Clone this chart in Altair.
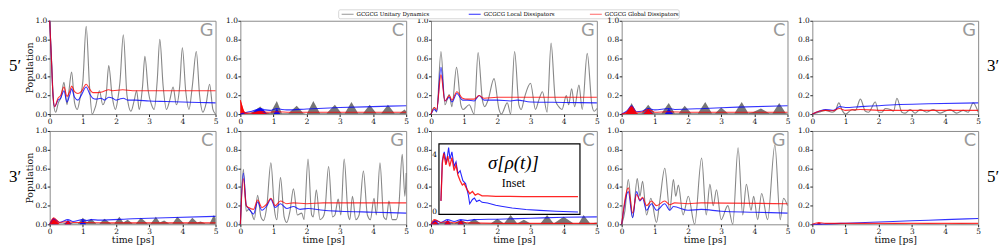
import altair as alt
import pandas as pd

W, H = 167, 94

# ---------------- data (time [ps], population) ----------------
# Row 1, col 1 (G)
P1_GRAY = [(0,1.0),(0.06,0.55),(0.12,0.1),(0.18,0.02),(0.26,0.12),(0.34,0.18),(0.43,0.34),(0.52,0.1),(0.58,0.25),(0.66,0.45),(0.75,0.12),(0.83,0.05),(0.92,0.18),(1.0,0.35),(1.1,0.94),(1.2,0.3),(1.28,0.0),(1.38,0.08),(1.5,0.25),(1.6,0.1),(1.7,0.2),(1.78,0.52),(1.88,0.2),(1.98,0.05),(2.05,0.15),(2.12,0.35),(2.22,0.85),(2.33,0.2),(2.45,0.03),(2.55,0.15),(2.62,0.25),(2.7,0.05),(2.8,0.3),(2.87,0.62),(2.97,0.25),(3.07,0.1),(3.15,0.05),(3.24,0.35),(3.32,0.8),(3.42,0.3),(3.52,0.05),(3.62,0.15),(3.72,0.29),(3.82,0.1),(3.92,0.3),(4.0,0.71),(4.1,0.25),(4.2,0.05),(4.3,0.3),(4.42,0.67),(4.52,0.2),(4.62,0.02),(4.72,0.12),(4.82,0.32),(4.92,0.05),(5.0,0.0)]
P1_BLUE = [(0,1.0),(0.05,0.6),(0.1,0.2),(0.15,0.08),(0.25,0.15),(0.33,0.17),(0.43,0.25),(0.52,0.13),(0.6,0.2),(0.66,0.27),(0.75,0.18),(0.85,0.15),(0.95,0.2),(1.1,0.29),(1.2,0.22),(1.3,0.17),(1.4,0.16),(1.55,0.17),(1.65,0.15),(1.78,0.18),(1.9,0.17),(2.0,0.15),(2.1,0.16),(2.22,0.17),(2.35,0.15),(2.6,0.15),(3.0,0.14),(3.5,0.135),(4.0,0.13),(4.5,0.125),(5.0,0.12)]
P1_RED = [(0,1.0),(0.05,0.6),(0.1,0.2),(0.15,0.08),(0.25,0.17),(0.33,0.2),(0.43,0.29),(0.52,0.19),(0.6,0.24),(0.66,0.3),(0.75,0.24),(0.85,0.22),(0.95,0.24),(1.1,0.32),(1.2,0.27),(1.3,0.23),(1.45,0.23),(1.6,0.24),(1.78,0.26),(1.9,0.25),(2.2,0.26),(2.5,0.25),(3.0,0.25),(4.0,0.25),(5.0,0.25)]

# Row 1, col 2 (C)
P2_GRAY = [(0,0.0),(0.3,0.01),(0.45,0.04),(0.6,0.08),(0.75,0.02),(0.9,0.01),(1.1,0.14),(1.25,0.01),(1.45,0.01),(1.7,0.09),(1.9,0.01),(2.0,0.0),(2.2,0.14),(2.4,0.01),(2.6,0.01),(2.85,0.1),(3.05,0.01),(3.15,0.01),(3.35,0.13),(3.55,0.01),(3.7,0.01),(3.9,0.1),(4.1,0.01),(4.25,0.01),(4.45,0.1),(4.65,0.01),(4.8,0.01),(4.95,0.05),(5.0,0.03)]
P2_BLUE = [(0,0.0),(0.1,0.01),(0.2,0.02),(0.35,0.03),(0.5,0.05),(0.6,0.06),(0.75,0.045),(0.9,0.04),(1.1,0.06),(1.25,0.05),(1.4,0.045),(2.0,0.055),(3.0,0.07),(4.0,0.08),(5.0,0.09)]
P2_BLUE_FILL = [(0.35,0.0),(0.45,0.04),(0.6,0.065),(0.72,0.04),(0.8,0.0),(1.0,0.0),(1.1,0.06),(1.2,0.0)]
P2_RED = [(0,0.15),(0.05,0.08),(0.12,0.02),(0.2,0.01),(0.4,0.015),(0.6,0.03),(0.8,0.02),(1.1,0.025),(1.5,0.02),(2.5,0.02),(5.0,0.02)]
P2_RED_FILL = [(0,0.15),(0.05,0.1),(0.1,0.04),(0.15,0.01),(0.3,0.0),(0.45,0.02),(0.6,0.03),(0.75,0.01),(0.9,0.0)]

# Row 1, col 3 (G)
P3_GRAY = [(0,0.0),(0.1,0.07),(0.17,0.02),(0.3,0.67),(0.42,0.1),(0.55,0.21),(0.63,0.08),(0.77,0.5),(0.9,0.1),(0.97,0.05),(1.15,0.1),(1.3,0.0),(1.42,0.66),(1.55,0.15),(1.62,0.08),(1.72,0.15),(1.9,0.38),(2.05,0.05),(2.12,0.0),(2.3,0.12),(2.4,0.0),(2.52,0.67),(2.65,0.1),(2.72,0.05),(2.82,0.18),(3.0,0.33),(3.15,0.05),(3.25,0.15),(3.36,0.24),(3.5,0.02),(3.62,0.76),(3.75,0.15),(3.85,0.08),(3.95,0.05),(4.08,0.2),(4.15,0.1),(4.24,0.27),(4.33,0.08),(4.46,0.31),(4.56,0.05),(4.71,0.65),(4.85,0.1),(4.92,0.03),(5.0,0.06)]
P3_BLUE = [(0,0.0),(0.1,0.05),(0.17,0.03),(0.3,0.5),(0.42,0.14),(0.55,0.18),(0.63,0.13),(0.78,0.22),(0.95,0.15),(1.1,0.15),(1.3,0.14),(1.45,0.2),(1.6,0.15),(2.0,0.15),(2.4,0.14),(2.6,0.15),(3.0,0.13),(4.0,0.125),(5.0,0.12)]
P3_RED = [(0,0.0),(0.1,0.07),(0.17,0.05),(0.3,0.42),(0.42,0.14),(0.55,0.2),(0.63,0.15),(0.78,0.24),(0.95,0.17),(1.1,0.16),(1.3,0.16),(1.45,0.2),(1.6,0.17),(2.0,0.18),(2.5,0.18),(5.0,0.18)]

# Row 1, col 4 (C)
P4_GRAY = [(0,0.0),(0.15,0.01),(0.3,0.12),(0.45,0.01),(0.6,0.01),(0.8,0.1),(1.0,0.01),(1.2,0.01),(1.42,0.12),(1.6,0.01),(1.72,0.01),(1.9,0.09),(2.1,0.01),(2.3,0.01),(2.52,0.13),(2.72,0.01),(2.82,0.01),(3.0,0.07),(3.2,0.01),(3.4,0.01),(3.62,0.13),(3.82,0.01),(3.95,0.02),(4.2,0.06),(4.45,0.01),(4.55,0.01),(4.75,0.12),(4.95,0.01),(5.0,0.01)]
P4_BLUE = [(0,0.0),(0.15,0.03),(0.3,0.09),(0.45,0.025),(0.6,0.03),(0.8,0.06),(1.0,0.045),(1.42,0.06),(1.6,0.05),(2.5,0.06),(3.5,0.075),(5.0,0.09)]
P4_BLUE_FILL = [(0.15,0.0),(0.3,0.09),(0.45,0.0),(0.65,0.0),(0.8,0.06),(0.95,0.0),(1.3,0.0),(1.42,0.06),(1.55,0.0)]
P4_RED = [(0,0.0),(0.15,0.02),(0.3,0.08),(0.45,0.02),(0.6,0.02),(0.8,0.05),(1.0,0.02),(1.4,0.025),(2.0,0.02),(5.0,0.02)]
P4_RED_FILL = [(0.1,0.0),(0.2,0.04),(0.3,0.08),(0.4,0.03),(0.5,0.0),(0.65,0.0),(0.8,0.05),(0.95,0.0)]

# Row 1, col 5 (G)
P5_GRAY = [(0,0.0),(0.2,0.02),(0.4,0.04),(0.6,0.02),(0.7,0.04),(0.8,0.12),(0.9,0.04),(1.0,0.0),(1.2,0.05),(1.3,0.04),(1.45,0.16),(1.6,0.03),(1.7,0.02),(1.9,0.13),(2.0,0.02),(2.1,0.02),(2.2,0.06),(2.35,0.05),(2.45,0.03),(2.55,0.17),(2.7,0.02),(2.8,0.01),(2.95,0.05),(3.1,0.01),(3.25,0.05),(3.45,0.02),(3.65,0.05),(3.85,0.01),(4.15,0.05),(4.35,0.01),(4.55,0.04),(4.7,0.02),(4.85,0.12),(5.0,0.02)]
P5_BLUE = [(0,0.0),(0.2,0.03),(0.4,0.05),(0.6,0.04),(0.7,0.05),(0.82,0.08),(1.0,0.07),(1.45,0.08),(2.0,0.09),(2.5,0.1),(3.5,0.11),(5.0,0.12)]
P5_RED = [(0,0.0),(0.2,0.03),(0.4,0.04),(0.6,0.035),(0.82,0.06),(1.0,0.04),(1.45,0.05),(2.0,0.04),(5.0,0.04)]

# Row 2, col 1 (C)
P6_GRAY = [(0,0.0),(0.1,0.05),(0.25,0.01),(0.4,0.01),(0.55,0.03),(0.7,0.01),(0.85,0.01),(1.0,0.07),(1.12,0.02),(1.25,0.06),(1.4,0.01),(1.5,0.01),(1.65,0.06),(1.85,0.01),(1.95,0.01),(2.1,0.08),(2.22,0.02),(2.35,0.05),(2.5,0.01),(2.6,0.01),(2.75,0.07),(2.95,0.01),(3.05,0.01),(3.2,0.08),(3.32,0.02),(3.45,0.04),(3.6,0.01),(3.7,0.01),(3.85,0.08),(4.05,0.01),(4.15,0.01),(4.3,0.07),(4.45,0.02),(4.55,0.03),(4.7,0.01),(4.82,0.01),(4.95,0.1),(5.0,0.06)]
P6_BLUE = [(0,0.0),(0.12,0.06),(0.3,0.02),(0.55,0.05),(0.7,0.03),(1.0,0.05),(1.12,0.04),(1.25,0.05),(1.5,0.045),(2.5,0.06),(3.5,0.07),(5.0,0.085)]
P6_BLUE_FILL = [(0.05,0.0),(0.12,0.06),(0.25,0.0),(0.45,0.0),(0.55,0.05),(0.65,0.0),(0.9,0.0),(1.0,0.05),(1.1,0.0)]
P6_RED = [(0,0.0),(0.12,0.07),(0.3,0.02),(0.55,0.03),(0.7,0.02),(1.0,0.02),(2.0,0.015),(5.0,0.015)]
P6_RED_FILL = [(0,0.0),(0.06,0.05),(0.12,0.07),(0.2,0.04),(0.3,0.0),(0.45,0.0),(0.55,0.03),(0.65,0.0)]

# Row 2, col 2 (G)
P7_GRAY = [(0,0.0),(0.09,0.59),(0.18,0.14),(0.25,0.16),(0.32,0.14),(0.42,0.05),(0.52,0.31),(0.62,0.08),(0.7,0.04),(0.8,0.2),(0.92,0.66),(1.03,0.15),(1.1,0.05),(1.21,0.5),(1.32,0.08),(1.4,0.02),(1.5,0.15),(1.6,0.38),(1.72,0.1),(1.85,0.12),(1.92,0.05),(2.04,0.7),(2.15,0.1),(2.2,0.08),(2.29,0.37),(2.4,0.05),(2.5,0.08),(2.55,0.15),(2.66,0.62),(2.78,0.08),(2.85,0.1),(2.95,0.27),(3.03,0.1),(3.13,0.7),(3.25,0.1),(3.3,0.05),(3.38,0.3),(3.48,0.05),(3.58,0.1),(3.71,0.57),(3.83,0.1),(3.92,0.05),(4.03,0.28),(4.1,0.1),(4.21,0.66),(4.32,0.08),(4.4,0.05),(4.48,0.25),(4.58,0.05),(4.7,0.05),(4.78,0.2),(4.88,0.75),(4.96,0.3),(5.0,0.55)]
P7_BLUE = [(0,0.0),(0.09,0.55),(0.18,0.2),(0.25,0.17),(0.4,0.11),(0.52,0.24),(0.65,0.15),(0.8,0.2),(0.92,0.27),(1.05,0.18),(1.21,0.22),(1.4,0.17),(1.6,0.19),(1.8,0.16),(2.04,0.17),(2.5,0.15),(3.0,0.14),(4.0,0.13),(5.0,0.12)]
P7_RED = [(0,0.0),(0.09,0.49),(0.18,0.2),(0.25,0.18),(0.4,0.16),(0.52,0.26),(0.65,0.18),(0.8,0.22),(0.92,0.28),(1.05,0.2),(1.21,0.25),(1.4,0.22),(1.6,0.23),(2.0,0.22),(2.5,0.23),(5.0,0.23)]

# Row 2, col 3 (C) with inset
P8_GRAY = [(0,0.0),(0.2,0.01),(0.5,0.03),(0.7,0.01),(0.9,0.05),(1.1,0.01),(1.3,0.06),(1.5,0.01),(1.8,0.01),(2.0,0.06),(2.2,0.01),(2.4,0.1),(2.6,0.01),(2.8,0.05),(3.0,0.01),(3.3,0.01),(3.5,0.1),(3.7,0.01),(4.0,0.08),(4.3,0.01),(4.45,0.01),(4.6,0.1),(4.8,0.01),(5.0,0.02)]
P8_BLUE = [(0,0.0),(0.15,0.04),(0.3,0.02),(0.5,0.05),(0.7,0.03),(0.9,0.05),(1.1,0.04),(1.3,0.05),(2.0,0.055),(3.0,0.065),(4.0,0.075),(5.0,0.08)]
P8_BLUE_FILL = [(0.05,0.0),(0.15,0.04),(0.25,0.0),(0.4,0.0),(0.5,0.05),(0.6,0.0),(0.8,0.0),(0.9,0.05),(1.0,0.0)]
P8_RED = [(0,0.0),(0.1,0.05),(0.3,0.02),(0.5,0.03),(0.7,0.015),(0.9,0.03),(1.1,0.015),(2.0,0.01),(5.0,0.01)]
P8_RED_FILL = [(0,0.0),(0.1,0.05),(0.22,0.0),(0.4,0.0),(0.5,0.03),(0.6,0.0),(0.8,0.0),(0.9,0.03),(1.0,0.0)]
INSET_BLUE = [(0,0.8),(0.05,3.6),(0.12,4.2),(0.2,3.4),(0.28,4.5),(0.33,3.7),(0.4,4.2),(0.48,3.2),(0.55,3.5),(0.62,2.7),(0.7,2.9),(0.8,2.2),(0.9,2.0),(1.0,1.2),(1.05,0.6),(1.15,0.9),(1.22,1.0),(1.3,0.75),(1.4,0.85),(1.5,0.7),(1.7,0.65),(2.0,0.5),(2.2,0.43),(2.6,0.3),(3.1,0.2),(3.6,0.14),(4.2,0.08),(5.0,0.03)]
INSET_RED = [(0,0.8),(0.05,3.4),(0.1,4.1),(0.18,3.3),(0.25,3.9),(0.32,3.2),(0.4,3.8),(0.48,2.9),(0.55,3.3),(0.62,2.6),(0.7,2.2),(0.78,1.9),(0.85,2.0),(0.95,1.6),(1.05,1.3),(1.15,1.45),(1.25,1.2),(1.35,1.3),(1.5,1.15),(1.7,1.15),(2.0,1.12),(3.0,1.1),(5.0,1.1)]
INSET_TICKS = [0, 4]

# Row 2, col 4 (G)
P9_GRAY = [(0,0.0),(0.1,0.15),(0.2,0.48),(0.33,0.07),(0.47,0.49),(0.55,0.3),(0.63,0.46),(0.75,0.1),(0.88,0.28),(1.05,0.02),(1.15,0.25),(1.3,0.6),(1.45,0.15),(1.56,0.48),(1.63,0.3),(1.71,0.42),(1.85,0.1),(2.01,0.3),(2.2,0.0),(2.41,0.71),(2.55,0.1),(2.66,0.43),(2.76,0.2),(2.86,0.37),(3.0,0.05),(3.2,0.2),(3.35,0.0),(3.51,0.82),(3.65,0.1),(3.76,0.43),(3.9,0.15),(3.98,0.3),(4.1,0.05),(4.22,0.33),(4.4,0.05),(4.62,0.85),(4.78,0.05),(4.88,0.28),(5.0,0.2)]
P9_BLUE = [(0,0.0),(0.2,0.35),(0.33,0.07),(0.45,0.35),(0.55,0.25),(0.63,0.28),(0.75,0.15),(0.9,0.22),(1.05,0.15),(1.3,0.22),(1.45,0.15),(1.56,0.19),(2.0,0.15),(2.4,0.16),(3.0,0.14),(4.0,0.13),(5.0,0.12)]
P9_RED = [(0,0.0),(0.2,0.39),(0.33,0.12),(0.45,0.32),(0.55,0.26),(0.63,0.29),(0.75,0.2),(0.9,0.25),(1.05,0.2),(1.3,0.25),(1.45,0.21),(1.6,0.23),(2.0,0.22),(2.4,0.23),(5.0,0.22)]

# Row 2, col 5 (C)
P10_GRAY = [(0,0.0),(0.5,0.005),(1.0,0.0),(1.5,0.005),(2.0,0.0),(2.5,0.008),(3.0,0.0),(3.5,0.008),(4.0,0.0),(4.5,0.008),(5.0,0.0)]
P10_BLUE = [(0,0.0),(0.5,0.005),(1.0,0.012),(2.0,0.025),(3.0,0.038),(4.0,0.05),(5.0,0.063)]
P10_RED = [(0,0.0),(0.2,0.02),(0.4,0.01),(1.0,0.01),(5.0,0.01)]
P10_RED_FILL = [(0.1,0.0),(0.2,0.02),(0.3,0.0)]

X_TICKS = [0, 1, 2, 3, 4, 5]
Y_TICKS = [0.0, 0.2, 0.4, 0.6, 0.8, 1.0]
LEGEND_LABELS = ["GCGCG Unitary Dynamics", "GCGCG Local Dissipators", "GCGCG Global Dissipators"]

GRAY = "#808080"
BLUE = "#0000ff"
RED = "#ff0000"
SERIF = "DejaVu Serif, Liberation Serif, serif"
MATH = "Liberation Serif, DejaVu Serif, serif"
SANS = "DejaVu Sans, Liberation Sans, sans-serif"


def df(pairs):
    return pd.DataFrame(pairs, columns=["t", "v"])


def text_layer(s, x, y, size, font, color="black", align="left", baseline="middle", style="normal"):
    return alt.Chart(pd.DataFrame({"s": [s]})).mark_text(
        align=align, baseline=baseline, fontSize=size, font=font, color=color, fontStyle=style
    ).encode(text="s:N", x=alt.value(x), y=alt.value(y))


def panel(letter, gray, blue, red, blue_fill=None, red_fill=None, ytitle=False, xtitle=False, extras=(), inset=None):
    xax = alt.Axis(values=X_TICKS, format="d", title="time [ps]") if xtitle else alt.Axis(values=X_TICKS, format="d", title=None)
    yax = alt.Axis(values=Y_TICKS, format=".1f", title="Population") if ytitle else alt.Axis(values=Y_TICKS, format=".1f", title=None)
    xs = alt.X("t:Q", scale=alt.Scale(domain=[0, 5], nice=False), axis=xax)
    ys = alt.Y("v:Q", scale=alt.Scale(domain=[0, 1], nice=False), axis=yax)
    layers = []
    if letter == "G":
        layers.append(alt.Chart(df(gray)).mark_line(color="#7a7a7a", strokeWidth=1.1, opacity=0.9,
                                                    interpolate="monotone").encode(x=xs, y=ys))
    else:
        layers.append(alt.Chart(df(gray)).mark_area(color="#6f6f6f", opacity=0.95).encode(x=xs, y=ys))
        if blue_fill:
            layers.append(alt.Chart(df(blue_fill)).mark_area(color=BLUE, opacity=0.9).encode(x=xs, y=ys))
        if red_fill:
            layers.append(alt.Chart(df(red_fill)).mark_area(color=RED, opacity=0.95).encode(x=xs, y=ys))
    layers.append(alt.Chart(df(blue)).mark_line(color=BLUE, strokeWidth=1.1, opacity=0.8,
                                                interpolate="monotone").encode(x=xs, y=ys))
    layers.append(alt.Chart(df(red)).mark_line(color=RED, strokeWidth=1.1, opacity=0.8,
                                               interpolate="monotone").encode(x=xs, y=ys))
    layers.append(text_layer(letter, W - 2, 1, 18, SANS, color="#9a9a9a", align="right", baseline="top"))
    layers.extend(extras)
    main = alt.layer(*layers)
    if inset is not None:
        return alt.layer(main, inset).resolve_scale(x="independent", y="independent").properties(width=W, height=H)
    return main.properties(width=W, height=H)


# ---- legend (drawn above panel 3) ----
dummy = pd.DataFrame({"a": [0]})
LY = -6.5
legend = [
    alt.Chart(dummy).mark_rect(fill="white", stroke="#cccccc", strokeWidth=0.8, cornerRadius=1.5).encode(
        x=alt.value(-93), x2=alt.value(250), y=alt.value(-11), y2=alt.value(-2)),
    alt.Chart(dummy).mark_rule(color=GRAY, strokeWidth=1.2, opacity=0.7).encode(x=alt.value(-90), x2=alt.value(-78), y=alt.value(LY)),
    text_layer(LEGEND_LABELS[0], -75, LY, 5.5, SERIF),
    alt.Chart(dummy).mark_rule(color=BLUE, strokeWidth=1.2, opacity=0.7).encode(x=alt.value(38), x2=alt.value(50), y=alt.value(LY)),
    text_layer(LEGEND_LABELS[1], 53, LY, 5.5, SERIF),
    alt.Chart(dummy).mark_rule(color=RED, strokeWidth=1.2, opacity=0.5).encode(x=alt.value(160), x2=alt.value(172), y=alt.value(LY)),
    text_layer(LEGEND_LABELS[2], 175, LY, 5.5, SERIF),
]

# ---- inset for panel 8 ----
ix = alt.X("t:Q", scale=alt.Scale(domain=[0, 5], range=[10, 148], nice=False), axis=None)
iy = alt.Y("v:Q", scale=alt.Scale(domain=[0, 4], range=[82, 24], nice=False), axis=None)
inset = alt.layer(
    alt.Chart(dummy).mark_rect(fill="white", stroke="black", strokeWidth=1.2).encode(
        x=alt.value(8), x2=alt.value(150), y=alt.value(13), y2=alt.value(84)),
    alt.Chart(df(INSET_BLUE)).mark_line(color=BLUE, strokeWidth=1.1, opacity=0.85).encode(x=ix, y=iy),
    alt.Chart(df(INSET_RED)).mark_line(color=RED, strokeWidth=1.3, opacity=0.85).encode(x=ix, y=iy),
    alt.Chart(pd.DataFrame({"v": INSET_TICKS, "s": [str(k) for k in INSET_TICKS]})).mark_text(
        align="right", baseline="middle", fontSize=7.5, font=SERIF).encode(x=alt.value(6), y=iy, text="s:N"),
    text_layer("σ[ρ(t)]", 83, 32, 19, MATH, align="center", style="italic"),
    text_layer("Inset", 83, 52, 12, MATH, align="center"),
)

p1 = panel("G", P1_GRAY, P1_BLUE, P1_RED, ytitle=True,
           extras=[text_layer("5′", -41, 46, 17, MATH)])
p2 = panel("C", P2_GRAY, P2_BLUE, P2_RED, P2_BLUE_FILL, P2_RED_FILL)
p3 = panel("G", P3_GRAY, P3_BLUE, P3_RED, extras=legend)
p4 = panel("C", P4_GRAY, P4_BLUE, P4_RED, P4_BLUE_FILL, P4_RED_FILL)
p5 = panel("G", P5_GRAY, P5_BLUE, P5_RED,
           extras=[text_layer("3′", 176, 46, 17, MATH)])
p6 = panel("C", P6_GRAY, P6_BLUE, P6_RED, P6_BLUE_FILL, P6_RED_FILL, ytitle=True, xtitle=True,
           extras=[text_layer("3′", -41, 46, 17, MATH)])
p7 = panel("G", P7_GRAY, P7_BLUE, P7_RED, xtitle=True)
p8 = panel("C", P8_GRAY, P8_BLUE, P8_RED, P8_BLUE_FILL, P8_RED_FILL, xtitle=True, inset=inset)
p9 = panel("G", P9_GRAY, P9_BLUE, P9_RED, xtitle=True)
p10 = panel("C", P10_GRAY, P10_BLUE, P10_RED, None, P10_RED_FILL, xtitle=True,
            extras=[text_layer("5′", 176, 46, 17, MATH)])

chart = alt.concat(p1, p2, p3, p4, p5, p6, p7, p8, p9, p10, columns=5,
                   spacing={"row": 17, "column": 25}, bounds="flush").properties(
    padding=0
).configure_view(stroke="#8a8a8a", strokeWidth=1).configure_axis(
    labelFont=SERIF, titleFont=SERIF, labelFontSize=7.5, titleFontSize=9.5,
    titleFontWeight="normal", tickSize=2.5, tickColor="#222222", domain=False, grid=False,
    labelPadding=0.5, titlePadding=0, labelColor="#111111", titleColor="#111111",
    labelFlush=False, labelOverlap=False
)

chart.save("out.html", embed_options={"renderer": "svg", "actions": False})
